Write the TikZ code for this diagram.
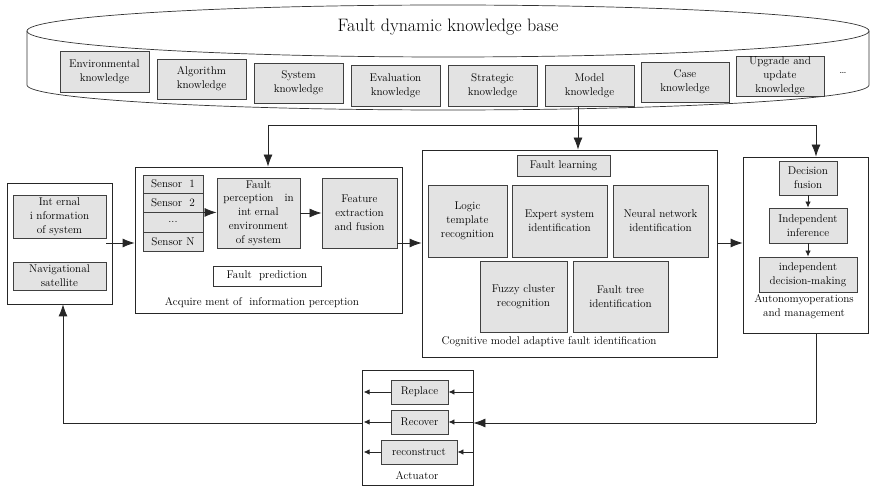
\documentclass[tikz,border=0pt]{standalone}
\usetikzlibrary{arrows.meta}
\begin{document}
\begin{tikzpicture}[x=1pt,y=-1pt,
  txt/.style={font=\fontsize{11.2}{13.8}\selectfont, align=center},
  sz/.style 2 args={minimum width=#1pt, minimum height=#2pt},
  gbox/.style={txt, draw=black!75, line width=0.9pt, fill=black!11, inner sep=0pt},
  wbox/.style={txt, draw=black!80, line width=0.9pt, fill=white, inner sep=0pt},
  frame/.style={draw=black!85, line width=0.8pt, inner sep=0pt},
  link/.style={draw=black!85, line width=0.8pt},
  big/.style={link, -{Latex[length=12pt,width=9pt]}},
  small/.style={link, -{Latex[length=6pt,width=5.5pt]}},
  cyl/.style={draw=black!80, line width=0.7pt},
]
\useasboundingbox (0,0) rectangle (871,486);

% knowledge base cylinder
\draw[cyl] (448,31) ellipse [x radius=421, y radius=26];
\draw[cyl] (27,31) -- (27,85) arc[start angle=180, end angle=0, x radius=421, y radius=25] -- (869,31);
\node[font=\fontsize{18}{21}\selectfont] (kbtitle) at (448,27) {Fault dynamic knowledge base};

\node[gbox, sz={89}{41}] (env) at (104.5,71.5) {Environmental\\knowledge};
\node[gbox, sz={89}{40}] (alg) at (201.5,79) {Algorithm\\knowledge};
\node[gbox, sz={89}{40}] (sys) at (298.5,83) {System\\knowledge};
\node[gbox, sz={89}{41}] (eva) at (395.5,85.5) {Evaluation\\knowledge};
\node[gbox, sz={89}{41}] (str) at (492.5,85.5) {Strategic\\knowledge};
\node[gbox, sz={89}{41}] (mod) at (589.5,85.5) {Model\\knowledge};
\node[gbox, sz={88}{40}] (cas) at (685,82) {Case\\knowledge};
\node[gbox, sz={88}{40}] (upg) at (780,76) {Upgrade and\\update\\knowledge};
\node[txt] (more) at (843,73) {\dots};

% container frames
\node[frame, sz={105}{121}] (left) at (59.5,243.5) {};
\node[frame, sz={267}{146}] (acq) at (268.5,240) {};
\node[frame, sz={295}{207}] (cog) at (569.5,253.5) {};
\node[frame, sz={125}{176}] (aut) at (805.5,245) {};
\node[frame, sz={111}{115}] (act) at (417.5,427.5) {};

% system information sources
\node[gbox, sz={93}{43}] (int) at (59.5,216.5) {Int ernal\\i nformation\\of system};
\node[gbox, sz={93}{28}] (nav) at (59.5,276) {Navigational\\satellite};

% information perception
\node[gbox, sz={60}{18}] (s1) at (173,184) {Sensor\ \ 1};
\node[gbox, sz={60}{19}] (s2) at (173,202.5) {Sensor\ \ 2};
\node[gbox, sz={60}{20}] (sd) at (173,222) {...};
\node[gbox, sz={60}{19}] (sn) at (173,241.5) {Sensor N};
\node[gbox, sz={83}{70}] (fp) at (258.5,213) {Fault\\perception\ \ \ in\\int ernal\\environment\\of system};
\node[gbox, sz={75}{70}] (feat) at (359.5,213) {Feature\\extraction\\and fusion};
\node[wbox, sz={108}{20}] (fpred) at (267,276) {Fault\ \ prediction};
\node[txt] (acqlbl) at (262,303) {Acquire ment of\ \ information perception};

% fault identification
\node[gbox, sz={93}{21}] (fl) at (563.5,165.5) {Fault learning};
\node[gbox, sz={79}{72}] (logic) at (467.5,221) {Logic\\template\\recognition};
\node[gbox, sz={95}{72}] (exp) at (559.5,221) {Expert system\\identification};
\node[gbox, sz={95}{72}] (neu) at (660.5,221) {Neural network\\identification};
\node[gbox, sz={87}{71}] (fuz) at (523.5,296.5) {Fuzzy cluster\\recognition};
\node[gbox, sz={95}{71}] (ftree) at (620.5,296.5) {Fault tree\\identification};
\node[txt] (coglbl) at (549,342) {Cognitive model adaptive fault identification};

% autonomous operation
\node[gbox, sz={58}{34}] (df) at (808,178) {Decision\\fusion};
\node[gbox, sz={78}{35}] (ii) at (808,225.5) {Independent\\inference};
\node[gbox, sz={98}{35}] (idm) at (808,274.5) {independent\\decision-making};
\node[txt] (autlbl) at (804,307) {Autonomyoperations\\and management};

% actuator
\node[gbox, sz={57}{24}] (rep) at (419.5,392) {Replace};
\node[gbox, sz={57}{24}] (rec) at (419.5,422) {Recover};
\node[gbox, sz={76}{24}] (rcn) at (419,452) {reconstruct};
\node[txt] (actlbl) at (417,476) {Actuator};

% knowledge distribution bus
\coordinate (busL) at (268,125);
\coordinate (busR) at (816,125);
\draw[big] ([xshift=-11.5pt]mod.south) -- ([xshift=-11.5pt]mod.south |- cog.north);
\draw[link] (busL) -- (busR);
\draw[big] (busL) -- (busL |- acq.north);
\draw[big] (busR) -- (busR |- aut.north);

% main processing chain
\coordinate (inA) at (106,243);
\draw[big] (inA) -- (inA -| acq.west);
\draw[big] (s2.south east) -- (s2.south east -| fp.west);
\draw[big] (fp.east) -- (feat.west);
\draw[big] (feat.east |- inA) -- (cog.west |- inA);
\draw[big] (cog.east |- inA) -- (aut.west |- inA);
\draw[small] (df.south) -- (ii.north);
\draw[small] (ii.south) -- (idm.north);

% feedback loop through the actuator
\coordinate (dn) at (816,423);
\coordinate (up) at (63,423);
\draw[link] (busR |- aut.south) -- (dn);
\draw[big] (dn) -- (act.east |- dn);
\draw[link] (act.west |- up) -- (up);
\draw[big] (up) -- (up |- left.south);

\draw[small] (act.east |- rep) -- (rep.east);
\draw[small] (act.east |- rec) -- (rec.east);
\draw[small] (act.east |- rcn) -- (rcn.east);
\draw[small] (rep.west) -- ([xshift=2pt]act.west |- rep);
\draw[small] (rec.west) -- ([xshift=2pt]act.west |- rec);
\draw[small] (rcn.west) -- ([xshift=2pt]act.west |- rcn);
\end{tikzpicture}
\end{document}
